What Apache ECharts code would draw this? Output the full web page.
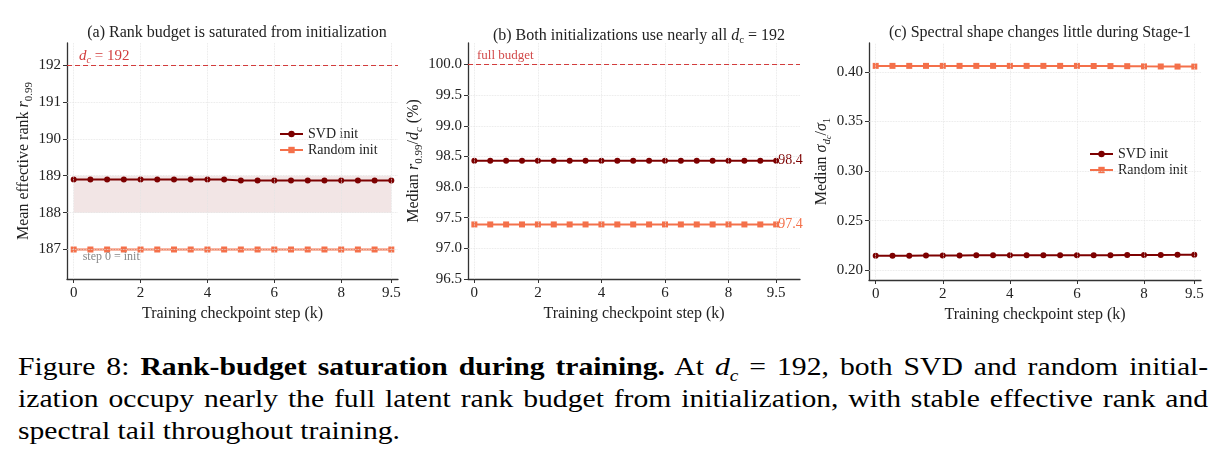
<!DOCTYPE html>
<html>
<head>
<meta charset="utf-8">
<script src="https://cdn.jsdelivr.net/npm/echarts@6/dist/echarts.min.js"></script>
<style>
  html, body { margin: 0; padding: 0; background: #fff; }
  #chart { position: absolute; left: 0; top: 0; width: 1225px; height: 335px; }
  .cap { position: absolute; left: 18px; width: 1044px; font-family: "Liberation Serif", serif; font-size: 26px; line-height: 32px; color: #000; white-space: nowrap; transform: scaleX(1.14); transform-origin: 0 0; }
  .just { text-align: justify; text-align-last: justify; }
</style>
</head>
<body>
<div id="chart"></div>
<div class="cap just" style="top:351px">Figure 8: <b>Rank-budget saturation during training.</b> At <i>d</i><sub style="font-size:17px;line-height:0"><i>c</i></sub> = 192, both SVD and random initial-</div>
<div class="cap just" style="top:383px">ization occupy nearly the full latent rank budget from initialization, with stable effective rank and</div>
<div class="cap" style="top:415px">spectral tail throughout training.</div>
<script>
// checkpoint steps (k)
var steps = [0, 0.5, 1, 1.5, 2, 2.5, 3, 3.5, 4, 4.5, 5, 5.5, 6, 6.5, 7, 7.5, 8, 8.5, 9, 9.5];
var xTicks = [0, 2, 4, 6, 8, 9.5];

// (a) mean effective rank r0.99
var svdRank = [188.9, 188.9, 188.9, 188.9, 188.9, 188.9, 188.9, 188.9, 188.9, 188.9,
  188.87, 188.87, 188.87, 188.87, 188.87, 188.87, 188.87, 188.87, 188.87, 188.87];
var randRank = [187, 187, 187, 187, 187, 187, 187, 187, 187, 187,
  187, 187, 187, 187, 187, 187, 187, 187, 187, 187];
var bandRank = [188, 189];
var budgetRank = 192;
var yTicksA = [187, 188, 189, 190, 191, 192];

// (b) median r0.99 / d_c (%)
var svdPct = [98.43, 98.43, 98.43, 98.43, 98.43, 98.43, 98.43, 98.43, 98.43, 98.43,
  98.43, 98.43, 98.43, 98.43, 98.43, 98.43, 98.43, 98.43, 98.43, 98.43];
var randPct = [97.39, 97.39, 97.39, 97.39, 97.39, 97.39, 97.39, 97.39, 97.39, 97.39,
  97.39, 97.39, 97.39, 97.39, 97.39, 97.39, 97.39, 97.39, 97.39, 97.39];
var budgetPct = 100;
var yTicksB = [96.5, 97, 97.5, 98, 98.5, 99, 99.5, 100];

// (c) median sigma_dc / sigma_1
var svdRatio = [0.2145, 0.2145, 0.2146, 0.2147, 0.2148, 0.2148, 0.2149, 0.2149, 0.2149, 0.2150,
  0.2150, 0.2150, 0.2151, 0.2151, 0.2151, 0.2152, 0.2152, 0.2153, 0.2154, 0.2156];
var randRatio = [0.4062, 0.4062, 0.4062, 0.4062, 0.4062, 0.4062, 0.4062, 0.4062, 0.4062, 0.4062,
  0.4062, 0.4062, 0.4062, 0.4061, 0.4060, 0.4059, 0.4057, 0.4056, 0.4055, 0.4055];
var yTicksC = [0.20, 0.25, 0.30, 0.35, 0.40];

var SVD = "#7d0000";
var RND = "#f4704a";
var RED = "#d23c3c";
var FONT = "Liberation Serif";
var AX = "#333";

var rich = {
  i: { fontStyle: "italic", fontFamily: FONT, fontSize: 16, lineHeight: 16 },
  s: { fontSize: 11, fontFamily: FONT, verticalAlign: "bottom", lineHeight: 21 },
  si: { fontSize: 11, fontStyle: "italic", fontFamily: FONT, verticalAlign: "bottom", lineHeight: 21 },
  ss: { fontSize: 8, fontStyle: "italic", fontFamily: FONT, verticalAlign: "bottom", lineHeight: 23 },
  n: { fontFamily: FONT, fontSize: 16, lineHeight: 16 }
};

function pairs(ys) {
  return steps.map(function (x, k) { return [x, ys[k]]; });
}

// dotted grid, skipping a tick that sits on the bottom spine
function gridLines(yt, ymin) {
  var g = { type: "dotted", color: "#e2e2e2", width: 0.8 };
  var out = [];
  xTicks.forEach(function (v) { out.push({ xAxis: v, lineStyle: g }); });
  yt.forEach(function (v) { if (v > ymin) out.push({ yAxis: v, lineStyle: g }); });
  return out;
}

function xAxisOf(idx, max) {
  return {
    type: "value", gridIndex: idx, min: -0.2, max: max,
    name: "Training checkpoint step (k)", nameLocation: "middle", nameGap: 25,
    nameTextStyle: { fontFamily: FONT, fontSize: 16, color: "#222" },
    axisLine: { onZero: false, lineStyle: { color: AX, width: 1.3 } },
    axisTick: { customValues: xTicks, length: 4, lineStyle: { color: AX } },
    axisLabel: { customValues: xTicks, fontFamily: FONT, fontSize: 15, color: "#222", margin: 7 },
    splitLine: { show: false }
  };
}

function yAxisOf(idx, min, max, ticks, dec, name, gap) {
  return {
    type: "value", gridIndex: idx, min: min, max: max,
    name: name, nameLocation: "middle", nameGap: gap, nameRotate: 90,
    nameTextStyle: { fontFamily: FONT, fontSize: 16, color: "#222", rich: rich },
    axisLine: { show: true, onZero: false, lineStyle: { color: AX, width: 1.3 } },
    axisTick: { show: true, customValues: ticks, length: 4, lineStyle: { color: AX } },
    axisLabel: {
      customValues: ticks, fontFamily: FONT, fontSize: 15, color: "#222", margin: 6,
      formatter: function (v) { return v.toFixed(dec); }
    },
    splitLine: { show: false }
  };
}

function lineSeries(name, idx, ys, color, symbol) {
  return {
    name: name, type: "line", xAxisIndex: idx, yAxisIndex: idx,
    data: pairs(ys), symbol: symbol, symbolSize: 6, showAllSymbol: true,
    lineStyle: { color: color, width: 2 }, itemStyle: { color: color },
    animation: false
  };
}

var chart = echarts.init(document.getElementById("chart"));

var sA1 = lineSeries("SVD init", 0, svdRank, SVD, "circle");
var sA2 = lineSeries("Random init", 0, randRank, RND, "rect");
sA1.markArea = {
  silent: true,
  itemStyle: { color: "rgba(125,0,0,0.1)" },
  data: [[{ xAxis: steps[0], yAxis: bandRank[0] }, { xAxis: steps[steps.length - 1], yAxis: bandRank[1] }]]
};
sA2.markLine = {
  silent: true, symbol: ["none", "none"], label: { show: false },
  data: gridLines(yTicksA, 186.2).concat([{
    yAxis: budgetRank,
    lineStyle: { type: [5, 3], color: RED, width: 1.2 },
    label: {
      show: true, position: "insideStartTop", distance: [12, 0],
      formatter: "{i|d}{s|c}{n| = 192}", color: RED,
      rich: {
        i: { fontStyle: "italic", fontFamily: FONT, fontSize: 15, color: RED, lineHeight: 15 },
        s: { fontStyle: "italic", fontFamily: FONT, fontSize: 10, color: RED, verticalAlign: "bottom", lineHeight: 19 },
        n: { fontFamily: FONT, fontSize: 15, color: RED, lineHeight: 15 }
      }
    }
  }])
};
sA2.markPoint = {
  silent: true, symbol: "circle", symbolSize: 0,
  data: [{ coord: [steps[0], randRank[0]] }],
  label: { show: true, position: "right", offset: [4, 7], formatter: "step 0 = init", fontFamily: FONT, fontSize: 12, color: "#888" }
};

var sB1 = lineSeries("SVD init", 1, svdPct, SVD, "circle");
var sB2 = lineSeries("Random init", 1, randPct, RND, "rect");
sB1.endLabel = { show: true, distance: 2, fontFamily: FONT, fontSize: 14, color: SVD, formatter: function (p) { return p.value[1].toFixed(1); } };
sB2.endLabel = { show: true, distance: 2, fontFamily: FONT, fontSize: 14, color: RND, formatter: function (p) { return p.value[1].toFixed(1); } };
sB2.markLine = {
  silent: true, symbol: ["none", "none"], label: { show: false },
  data: gridLines(yTicksB, 96.5).concat([{
    yAxis: budgetPct,
    lineStyle: { type: [5, 3], color: RED, width: 1.2 },
    label: { show: true, position: "insideStartTop", distance: [9, 2], formatter: "full budget", fontFamily: FONT, fontSize: 13, color: "#d24a4a" }
  }])
};

var sC1 = lineSeries("SVD init", 2, svdRatio, SVD, "circle");
var sC2 = lineSeries("Random init", 2, randRatio, RND, "rect");
sC2.markLine = {
  silent: true, symbol: ["none", "none"], label: { show: false },
  data: gridLines(yTicksC, 0.19)
};

function legendAt(left, top) {
  return {
    left: left, top: top, orient: "vertical", itemGap: 2, itemWidth: 23, itemHeight: 8,
    data: ["SVD init", "Random init"],
    textStyle: { fontFamily: FONT, fontSize: 14, color: "#222" },
    selectedMode: false
  };
}

var titleStyle = { fontFamily: FONT, fontSize: 16, fontWeight: "normal", color: "#222", rich: rich };

var option = {
  animation: false,
  title: [
    { text: "(a) Rank budget is saturated from initialization", left: 232, top: 20, textAlign: "center", textStyle: titleStyle },
    { text: "{n|(b) Both initializations use nearly all }{i|d}{s|c}{n| = 192}", left: 634, top: 20, textAlign: "center", textStyle: titleStyle },
    { text: "(c) Spectral shape changes little during Stage-1", left: 1035, top: 20, textAlign: "center", textStyle: titleStyle }
  ],
  legend: [legendAt(274, 122), legendAt(1084, 142)],
  grid: [
    { left: 67, top: 43, width: 331, height: 236 },
    { left: 468, top: 43, width: 332, height: 236 },
    { left: 869, top: 43, width: 332, height: 237 }
  ],
  xAxis: [xAxisOf(0, 9.7), xAxisOf(1, 10.25), xAxisOf(2, 9.7)],
  yAxis: [
    yAxisOf(0, 186.2, 192.6, yTicksA, 0, "{n|Mean effective rank }{i|r}{s|0.99}", 32),
    yAxisOf(1, 96.5, 100.35, yTicksB, 1, "{n|Median }{i|r}{s|0.99}{n|/}{i|d}{si|c}{n| (%)}", 40),
    yAxisOf(2, 0.19, 0.4293, yTicksC, 2, "{n|Median }{i|σ}{si|d}{ss|c}{n|/}{i|σ}{s|1}", 35)
  ],
  series: [sA1, sA2, sB1, sB2, sC1, sC2]
};

chart.setOption(option);
window.onresize = chart.resize;
</script>
</body>
</html>
